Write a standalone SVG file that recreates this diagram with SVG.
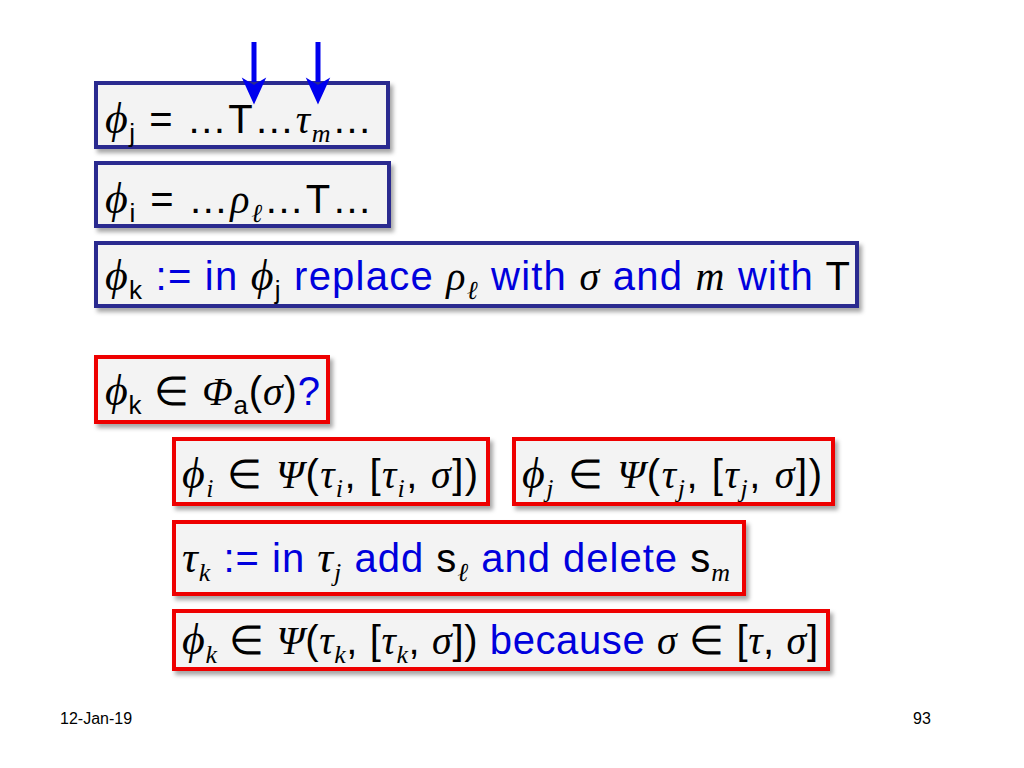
<svg xmlns="http://www.w3.org/2000/svg" width="1024" height="768" viewBox="0 0 1024 768">
<defs>
<filter id="sh" x="-5%" y="-5%" width="110%" height="130%"><feDropShadow dx="3" dy="4" stdDeviation="2" flood-color="#000" flood-opacity="0.35"/></filter>
</defs>
<style>
.bb{fill:#f3f3f3;stroke:#2a2a8f;stroke-width:4;filter:url(#sh)}
.rb{fill:#f3f3f3;stroke:#ee0000;stroke-width:4;filter:url(#sh)}
text{font-family:"Liberation Sans",Arial,sans-serif;font-size:40px;fill:#000}
.m{font-family:"Liberation Serif","Times New Roman",serif;font-style:italic}
.b{fill:#0000dd}
.s{font-size:26px}
.f{font-size:16px;fill:#000}
</style>
<rect width="1024" height="768" fill="#fff"/>
<g id="n1"><rect class="bb" x="96" y="83" width="292" height="64"/>
<text x="105" y="133" textLength="267" lengthAdjust="spacing"><tspan class="m" font-size="44">ϕ</tspan><tspan class="s" dy="9">j</tspan><tspan dy="-9"> = …T…</tspan><tspan class="m">τ</tspan><tspan class="m s" dy="9">m</tspan><tspan dy="-9">…</tspan></text></g>
<g id="n2"><rect class="bb" x="96" y="163" width="293" height="63"/>
<text x="105" y="213" textLength="267" lengthAdjust="spacing"><tspan class="m" font-size="44">ϕ</tspan><tspan class="s" dy="9">i</tspan><tspan dy="-9"> = …</tspan><tspan class="m">ρ</tspan><tspan class="m s" dy="9">ℓ</tspan><tspan dy="-9">…T…</tspan></text></g>
<g id="n3"><rect class="bb" x="96" y="243" width="761" height="63"/>
<text x="105" y="290" textLength="745" lengthAdjust="spacing"><tspan class="m" font-size="44">ϕ</tspan><tspan class="s" dy="9">k</tspan><tspan class="b" dy="-9"> := in </tspan><tspan class="m" font-size="44">ϕ</tspan><tspan class="s" dy="9">j</tspan><tspan class="b" dy="-9"> replace </tspan><tspan class="m">ρ</tspan><tspan class="m s" dy="9">ℓ</tspan><tspan class="b" dy="-9"> with </tspan><tspan class="m">σ</tspan><tspan class="b"> and </tspan><tspan class="m">m</tspan><tspan class="b"> with </tspan><tspan>T</tspan></text></g>
<g id="n4"><rect class="rb" x="96" y="357" width="232" height="65"/>
<text x="105" y="405" textLength="215" lengthAdjust="spacing"><tspan class="m" font-size="44">ϕ</tspan><tspan class="s" dy="9">k</tspan><tspan dy="-9"> ∈ </tspan><tspan class="m">Φ</tspan><tspan class="s" dy="9">a</tspan><tspan dy="-9">(</tspan><tspan class="m">σ</tspan><tspan>)</tspan><tspan class="b">?</tspan></text></g>
<g id="n5"><rect class="rb" x="174" y="439" width="314" height="65"/>
<text x="182" y="488" textLength="296" lengthAdjust="spacing"><tspan class="m" font-size="44">ϕ</tspan><tspan class="m s" dy="9">i</tspan><tspan dy="-9"> ∈ </tspan><tspan class="m">Ψ</tspan><tspan>(</tspan><tspan class="m">τ</tspan><tspan class="m s" dy="9">i</tspan><tspan dy="-9">, [</tspan><tspan class="m">τ</tspan><tspan class="m s" dy="9">i</tspan><tspan dy="-9">, </tspan><tspan class="m">σ</tspan><tspan>])</tspan></text></g>
<g id="n6"><rect class="rb" x="514" y="439" width="319" height="65"/>
<text x="522" y="488" textLength="300" lengthAdjust="spacing"><tspan class="m" font-size="44">ϕ</tspan><tspan class="m s" dy="9">j</tspan><tspan dy="-9"> ∈ </tspan><tspan class="m">Ψ</tspan><tspan>(</tspan><tspan class="m">τ</tspan><tspan class="m s" dy="9">j</tspan><tspan dy="-9">, [</tspan><tspan class="m">τ</tspan><tspan class="m s" dy="9">j</tspan><tspan dy="-9">, </tspan><tspan class="m">σ</tspan><tspan>])</tspan></text></g>
<g id="n7"><rect class="rb" x="174" y="522" width="570" height="72"/>
<text x="182" y="572" textLength="548" lengthAdjust="spacing"><tspan class="m" font-size="44">τ</tspan><tspan class="m s" dy="9">k</tspan><tspan class="b" dy="-9"> := in </tspan><tspan class="m" font-size="44">τ</tspan><tspan class="m s" dy="9">j</tspan><tspan class="b" dy="-9"> add </tspan><tspan>s</tspan><tspan class="m s" dy="9">ℓ</tspan><tspan class="b" dy="-9"> and delete </tspan><tspan>s</tspan><tspan class="m s" dy="9">m</tspan></text></g>
<g id="n8"><rect class="rb" x="174" y="611" width="654" height="58"/>
<text x="182" y="654" textLength="636" lengthAdjust="spacing"><tspan class="m" font-size="44">ϕ</tspan><tspan class="m s" dy="9">k</tspan><tspan dy="-9"> ∈ </tspan><tspan class="m">Ψ</tspan><tspan>(</tspan><tspan class="m">τ</tspan><tspan class="m s" dy="9">k</tspan><tspan dy="-9">, [</tspan><tspan class="m">τ</tspan><tspan class="m s" dy="9">k</tspan><tspan dy="-9">, </tspan><tspan class="m">σ</tspan><tspan>]) </tspan><tspan class="b">because </tspan><tspan class="m">σ</tspan><tspan> ∈ [</tspan><tspan class="m">τ</tspan><tspan>, </tspan><tspan class="m">σ</tspan><tspan>]</tspan></text></g>
<g id="connectors">
<line x1="254" y1="42" x2="254" y2="82" stroke="#0000ee" stroke-width="5"/>
<path d="M244,80 L254,102 L264,80 L254,86 Z" fill="#0000ee" stroke="#0000ee" stroke-width="2"/>
<line x1="318" y1="42" x2="318" y2="82" stroke="#0000ee" stroke-width="5"/>
<path d="M308,80 L318,102 L328,80 L318,86 Z" fill="#0000ee" stroke="#0000ee" stroke-width="2"/>
</g>
<text class="f" x="60" y="724">12-Jan-19</text>
<text class="f" x="913" y="724">93</text>
</svg>
